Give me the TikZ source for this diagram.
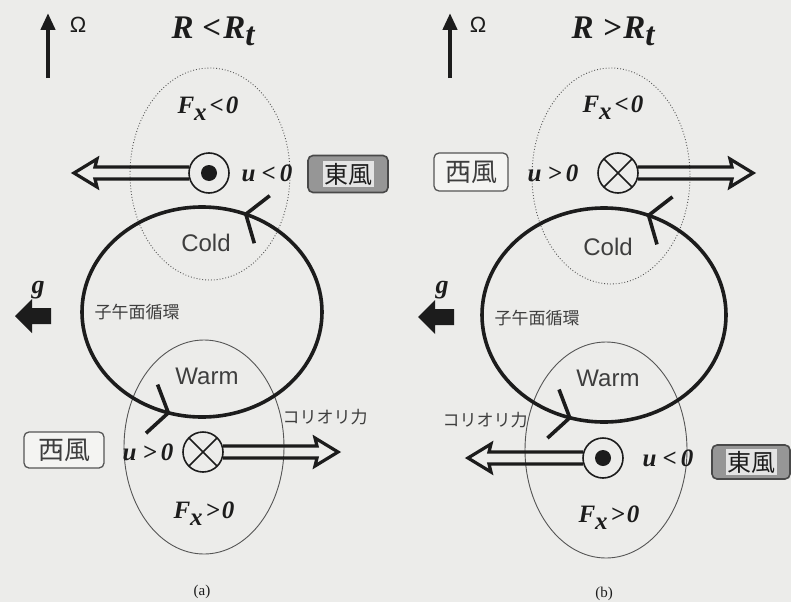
\documentclass[tikz,border=0pt]{standalone}
\usepackage{fontspec}
\setmainfont{Liberation Serif}
\newfontfamily\sansf{Liberation Sans}
\newfontfamily\cjk{Noto Sans CJK JP}
\usetikzlibrary{arrows.meta,decorations.markings}
\definecolor{paper}{RGB}{236,236,234}
\definecolor{ink}{RGB}{28,28,28}
\definecolor{thinline}{RGB}{85,85,85}
\definecolor{boxdark}{RGB}{150,150,150}
\definecolor{boxlight}{RGB}{228,228,228}
\newcommand\fsz[1]{\fontsize{#1}{#1}\selectfont}
\setlength\fboxsep{1.5pt}
\begin{document}
\begin{tikzpicture}[x=1pt,y=-1pt,
  lbl/.style={inner sep=0pt, text=ink},
  mathlbl/.style={lbl, font=\fsz{25}\bfseries\itshape},
  sanslbl/.style={lbl, font=\sansf\fsz{24}, text=ink!85},
  cjklbl/.style={lbl, font=\cjk\fsz{17}, text=ink!85},
  dotell/.style={draw=thinline, dotted, line width=0.9pt},
  thinell/.style={draw=thinline, line width=0.9pt},
  circflow/.style={draw=ink, line width=3.6pt, postaction={decorate},
    decoration={markings,
      mark=at position 0.19 with {\arrow{Straight Barb[length=17pt,width=50pt]}},
      mark=at position 0.705 with {\arrow{Straight Barb[length=17pt,width=50pt]}}}},
  omegaarrow/.style={draw=ink, line width=4.5pt, -{Triangle[length=17pt,width=14pt]}},
  dotcircle/.style={circle, draw=ink, line width=1.6pt, fill=paper, minimum size=40pt, inner sep=0pt, outer sep=0pt},
  westbox/.style={draw=ink!75, line width=1.3pt, rounded corners=5pt, fill=paper!60!white, minimum width=80pt, minimum height=36pt, inner sep=0pt, font=\cjk\fsz{26}, text=ink!85},
  eastbox/.style={draw=ink!80, line width=1.6pt, rounded corners=5pt, fill=boxdark, minimum width=80pt, minimum height=37pt, inner sep=0pt, font=\cjk\fsz{24}, text=ink},
  hollowarrow/.pic={\draw[draw=ink, line width=3.2pt, line join=miter]
      (0,-6) -- (94,-6) -- (92,-14) -- (115,0) -- (92,14) -- (94,6) -- (0,6);},
  gravity/.pic={\fill[ink] (0,0) -- (17,-17) -- (17,-8) -- (36,-8) -- (36,8) -- (17,8) -- (17,17) -- cycle;}
]
\fill[paper] (0,0) rectangle (791,602);
\useasboundingbox (0,0) rectangle (791,602);

% ================= panel (a) =================
\draw[dotell] (210,174) ellipse [x radius=80, y radius=106];
\draw[thinell] (204,447) ellipse [x radius=80, y radius=107];
\draw[circflow] (322,312) arc[start angle=0, end angle=-360, x radius=120, y radius=105];

\coordinate (omAbot) at (48,78);
\coordinate (omAtop) at (48,13);
\draw[omegaarrow] (omAbot) -- (omAtop);
\node[lbl, font=\sansf\fsz{22}] (omegaA) at (78,25) {Ω};
\node[lbl, font=\fsz{33}\bfseries\itshape, anchor=base] (titleA) at (213,38) {R\hspace{9pt}<\hspace{2pt}R\raisebox{-7pt}{t}};

\node[mathlbl, anchor=base] (fxtopA) at (208,113) {F\raisebox{-7pt}{x}\hspace{3pt}<\hspace{2pt}0};
\node[dotcircle] (dotA) at (209,173) {};
\fill[ink] (dotA.center) circle (8);
\pic at (189,173) [xscale=-1] {hollowarrow};
\node[mathlbl, anchor=base] (uA1) at (267,181) {u\hspace{6pt}<\hspace{4pt}0};
\node[eastbox] (eastA) at (348,174) {\colorbox{boxlight}{東風}};

\node[sanslbl] (coldA) at (206,243) {Cold};
\node[lbl, font=\bfseries\itshape\fsz{26}] (gA) at (38,290) {g};
\pic at (15,316) {gravity};
\node[cjklbl] (meridA) at (137,312) {子午面循環};
\node[sanslbl] (warmA) at (207,376) {Warm};

\node[cjklbl] (corA) at (325,417) {コリオリ力};
\node[westbox] (westA) at (64,450) {西風};
\node[mathlbl, anchor=base] (uA2) at (148,460) {u\hspace{6pt}>\hspace{4pt}0};
\node[dotcircle] (crossA) at (203,452) {};
\draw[ink, line width=1.6pt] (crossA.north west) -- (crossA.south east);
\draw[ink, line width=1.6pt] (crossA.north east) -- (crossA.south west);
\pic at (223,452) {hollowarrow};
\node[mathlbl, anchor=base] (fxbotA) at (204,518) {F\raisebox{-7pt}{x}\hspace{3pt}>\hspace{2pt}0};
\node[lbl, font=\fsz{15}] (capA) at (202,592) {(a)};

% ================= panel (b) =================
\draw[dotell] (611,176) ellipse [x radius=79, y radius=108];
\draw[thinell] (606,450) ellipse [x radius=81, y radius=108];
\draw[circflow] (726,315) arc[start angle=0, end angle=-360, x radius=122, y radius=107];

\coordinate (omBbot) at (450,78);
\coordinate (omBtop) at (450,13);
\draw[omegaarrow] (omBbot) -- (omBtop);
\node[lbl, font=\sansf\fsz{22}] (omegaB) at (478,25) {Ω};
\node[lbl, font=\fsz{33}\bfseries\itshape, anchor=base] (titleB) at (613,38) {R\hspace{9pt}>\hspace{2pt}R\raisebox{-7pt}{t}};

\node[mathlbl, anchor=base] (fxtopB) at (613,112) {F\raisebox{-7pt}{x}\hspace{3pt}<\hspace{2pt}0};
\node[westbox, minimum width=74pt, minimum height=38pt] (westB) at (471,172) {西風};
\node[mathlbl, anchor=base] (uB1) at (553,181) {u\hspace{6pt}>\hspace{4pt}0};
\node[dotcircle] (crossB) at (618,173) {};
\draw[ink, line width=1.6pt] (crossB.north west) -- (crossB.south east);
\draw[ink, line width=1.6pt] (crossB.north east) -- (crossB.south west);
\pic at (638,173) {hollowarrow};

\node[sanslbl] (coldB) at (608,247) {Cold};
\node[lbl, font=\bfseries\itshape\fsz{26}] (gB) at (442,290) {g};
\pic at (418,317) {gravity};
\node[cjklbl] (meridB) at (537,318) {子午面循環};
\node[sanslbl] (warmB) at (608,378) {Warm};

\node[cjklbl] (corB) at (485,420) {コリオリ力};
\node[dotcircle] (dotB) at (603,458) {};
\fill[ink] (dotB.center) circle (8);
\pic at (583,458) [xscale=-1] {hollowarrow};
\node[mathlbl, anchor=base] (uB2) at (668,466) {u\hspace{6pt}<\hspace{4pt}0};
\node[eastbox, minimum width=78pt, minimum height=34pt] (eastB) at (751,462) {\colorbox{boxlight}{東風}};
\node[mathlbl, anchor=base] (fxbotB) at (609,522) {F\raisebox{-7pt}{x}\hspace{3pt}>\hspace{2pt}0};
\node[lbl, font=\fsz{15}] (capB) at (604,594) {(b)};
\end{tikzpicture}
\end{document}
